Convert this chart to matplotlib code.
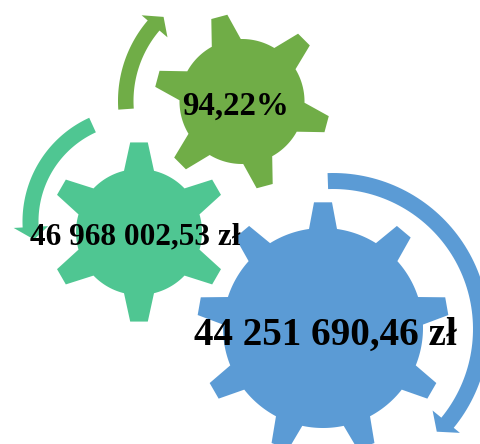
import numpy as np
import matplotlib
matplotlib.use("Agg")
import matplotlib.pyplot as plt
from matplotlib.patches import Polygon

labels = ["94,22%", "46 968 002,53 zł", "44 251 690,46 zł"]
colors = ["#70AD47", "#4FC692", "#5B9BD5"]
font_sizes = [23.7, 22.5, 28.2]
label_xy = [(235.5, 106), (135, 237), (325, 335)]

# gear geometry: centre x, centre y, body r, tip r, teeth, first tooth angle, half root, half tip
gears = [
    (242, 101.5, 62.5, 88, 6, 105, 15, 8.3),
    (139, 232, 63, 90, 6, 90, 15, 8.8),
    (323, 328, 100, 126, 9, 90, 14, 9),
]
# arrow geometry: cx, cy, r in, r out, start deg, end deg, barb in r, barb out r, tip r, tip deg
arrows = [
    (242, 101, 108.5, 124, 184, 139.5, 98, 132, 115, 133),
    (136.5, 221.5, 98, 114, 114.5, 183, 88.5, 123, 104, 190),
    (333, 329, 140, 156, 92, -39.3, 128.7, 164, 146, -44.7),
]


def pol(cx, cy, r, deg):
    a = np.radians(deg)
    return cx + r * np.cos(a), cy - r * np.sin(a)


def gear_outline(cx, cy, rb, rt, n, a0, hr, ht):
    pts = []
    step = 360 / n
    dr = np.degrees(np.arcsin(hr / rb))
    for i in range(n):
        a = a0 - i * step
        dt = np.degrees(np.arcsin(ht / rt))
        pts.append(pol(cx, cy, rb, a + dr))
        pts.append(pol(cx, cy, rt, a + dt))
        pts.append(pol(cx, cy, rt, a - dt))
        pts.append(pol(cx, cy, rb, a - dr))
        for b in np.linspace(a - dr, a - step + dr, 24)[1:-1]:
            pts.append(pol(cx, cy, rb, b))
    return pts


def arrow_outline(cx, cy, ri, ro, a0, a1, bi, bo, rtip, atip):
    angles = np.linspace(a0, a1, 80)
    pts = [pol(cx, cy, ro, a) for a in angles]
    pts += [pol(cx, cy, bo, a1), pol(cx, cy, rtip, atip), pol(cx, cy, bi, a1)]
    pts += [pol(cx, cy, ri, a) for a in angles[::-1]]
    return pts


fig = plt.figure(figsize=(4.8, 4.44), dpi=100)
ax = fig.add_axes([0, 0, 1, 1])
ax.set_xlim(0, 480)
ax.set_ylim(444, 0)
ax.axis("off")

for g, a, c in zip(gears, arrows, colors):
    ax.add_patch(Polygon(gear_outline(*g), closed=True, fc=c, ec="none"))
    ax.add_patch(Polygon(arrow_outline(*a), closed=True, fc=c, ec="none"))

for t, xy, fs in zip(labels, label_xy, font_sizes):
    ax.text(xy[0], xy[1], t, ha="center", va="center", fontsize=fs,
            fontweight="bold", family="Liberation Serif", color="black")

fig.savefig("out.png", dpi=100)
